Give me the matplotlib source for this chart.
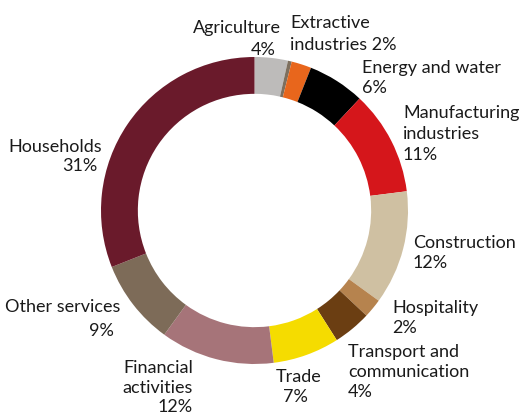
import matplotlib
matplotlib.use('Agg')
import matplotlib.pyplot as plt
from matplotlib import font_manager

# sector shares, clockwise from 12 o'clock
sectors = ['Agriculture', 'Other', 'Extractive industries', 'Energy and water',
           'Manufacturing industries', 'Construction', 'Hospitality',
           'Transport and communication', 'Trade', 'Financial activities',
           'Other services', 'Households']
shares = [3.5, 0.4, 2.1, 6.0, 11.0, 12.0, 2.0, 4.0, 7.0, 12.0, 9.0, 31.0]
colors = ['#bdbbba', '#7d6f5e', '#e8661c', '#000000', '#d5161b', '#cfc0a2',
          '#b6834e', '#6b3e12', '#f5dc00', '#a67479', '#7d6b58', '#6a1a2b']

# label lines: text, pixel x, pixel baseline y, alignment
label_lines = [
    ('Agriculture', 281, 33, 'right'), ('4%', 276, 55, 'right'),
    ('Extractive', 290, 28, 'left'), ('industries 2%', 290, 50, 'left'),
    ('Energy and water', 362, 73, 'left'), ('6%', 362, 93, 'left'),
    ('Manufacturing', 403, 118, 'left'), ('industries', 403, 139, 'left'),
    ('11%', 403, 160, 'left'),
    ('Construction', 413, 248, 'left'), ('12%', 413, 268, 'left'),
    ('Hospitality', 392, 313, 'left'), ('2%', 392, 333, 'left'),
    ('Transport and', 348, 357, 'left'), ('communication', 348, 377, 'left'),
    ('4%', 348, 397, 'left'),
    ('Trade', 299, 382, 'center'), ('7%', 295, 402, 'center'),
    ('Financial', 193, 373, 'right'), ('activities', 193, 393, 'right'),
    ('12%', 193, 412, 'right'),
    ('Other services', 120, 312, 'right'), ('9%', 114, 336, 'right'),
    ('Households', 102, 152, 'right'), ('31%', 97, 171, 'right'),
]

# narrow face if there is one, otherwise Lato a bit smaller
try:
    font_manager.findfont('Liberation Sans Narrow', fallback_to_default=False)
    FONT, FSIZE = 'Liberation Sans Narrow', 15
except ValueError:
    FONT, FSIZE = 'Lato', 13

W, H = 523, 415
cx, cy, r = 254.5, 210.5, 153.5

fig = plt.figure(figsize=(W / 100, H / 100), dpi=100)
ax = fig.add_axes([(cx - r) / W, (H - cy - r) / H, 2 * r / W, 2 * r / H])
ax.pie(shares, colors=colors, startangle=90, counterclock=False, radius=1,
       wedgeprops=dict(width=0.24, linewidth=0))
ax.set_xlim(-1, 1)
ax.set_ylim(-1, 1)
ax.set_aspect('auto')
ax.axis('off')

for txt, x, y, ha in label_lines:
    fig.text(x / W, 1 - y / H, txt, ha=ha, va='baseline', fontsize=FSIZE,
             family=FONT, color='#1a1a1a')

fig.savefig('out.png', dpi=100)
